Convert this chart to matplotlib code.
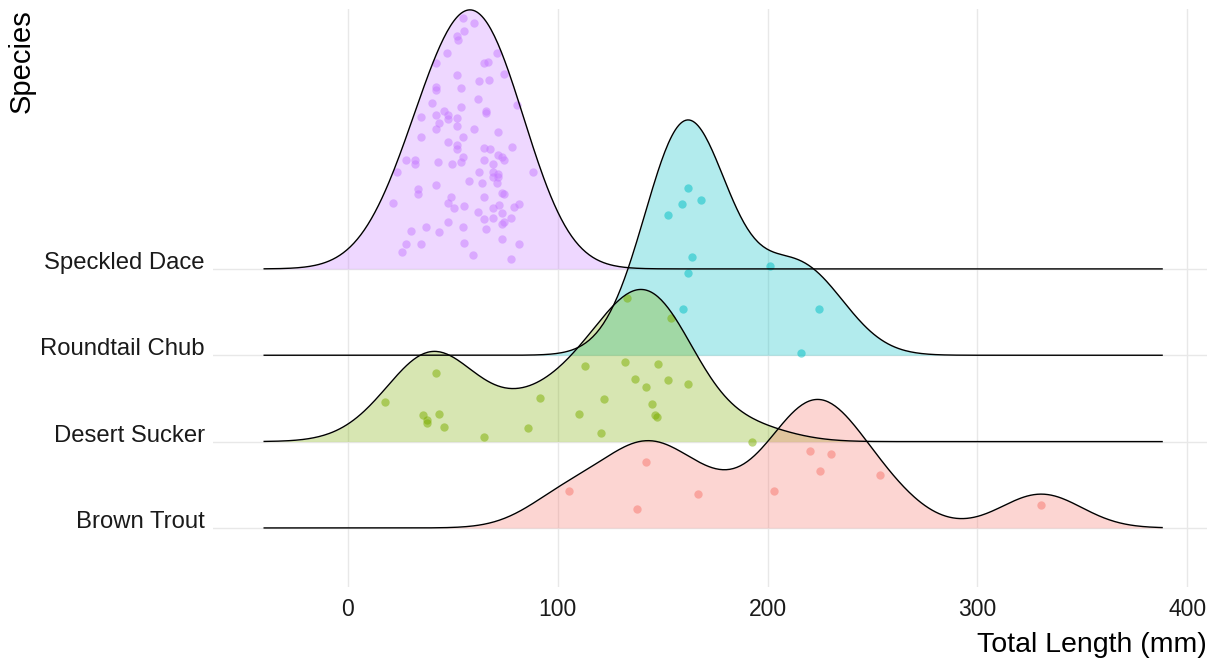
import numpy as np
import matplotlib
matplotlib.use('Agg')
import matplotlib.pyplot as plt

plt.rcParams['font.family'] = ['Liberation Sans', 'DejaVu Sans']

species = ['Brown Trout', 'Desert Sucker', 'Roundtail Chub', 'Speckled Dace']
colors = ['#F8766D', '#7CAE00', '#00BFC4', '#C77CFF']

# total length (mm) of each fish and its vertical jitter (in ridge units)
trout_len = [142.1, 105.4, 137.8, 166.8, 203.0, 220.1, 230.1, 224.9, 253.4, 330.4]
trout_jit = [0.76, 0.43, 0.22, 0.39, 0.43, 0.89, 0.86, 0.66, 0.61, 0.27]

sucker_len = [133.0, 154.0, 42.1, 113.0, 132.1, 147.8, 136.8, 152.5, 142.1, 162.1,
              17.8, 91.6, 122.1, 144.9, 35.9, 43.6, 110.2, 37.8, 37.8, 146.4,
              147.3, 45.9, 85.9, 120.7, 64.9, 192.5]
sucker_jit = [1.66, 1.43, 0.80, 0.88, 0.92, 0.90, 0.73, 0.71, 0.63, 0.67,
              0.46, 0.51, 0.49, 0.43, 0.31, 0.32, 0.32, 0.25, 0.21, 0.31,
              0.29, 0.17, 0.16, 0.10, 0.05, 0.0]

chub_len = [162.1, 168.3, 159.2, 152.5, 164.0, 201.1, 162.1, 159.7, 224.4, 215.8]
chub_jit = [1.94, 1.80, 1.75, 1.62, 1.14, 1.03, 0.95, 0.54, 0.54, 0.03]

dace_len = [54.8, 60.0, 55.3, 52.0, 52.4, 47.2, 70.9, 42.0, 64.7, 66.6,
            74.6, 52.0, 62.4, 67.1, 42.0, 42.0, 53.9, 61.9, 40.2, 80.8,
            53.9, 66.1, 66.1, 45.8, 35.0, 42.0, 47.7, 47.7, 52.0, 52.0,
            43.5, 42.0, 60.0, 71.8, 35.0, 54.8,
            47.7, 52.0, 52.0, 64.7, 67.6, 78.4, 54.8, 53.9, 27.9, 32.1,
            32.1, 43.0, 49.6, 64.7, 71.8, 73.7, 74.6, 69.4, 23.6, 62.4,
            69.0, 71.8, 71.8, 69.0, 88.3, 57.6, 63.8, 70.9, 42.0, 33.5,
            33.5, 73.7, 74.6, 64.7, 49.1, 47.7, 21.7, 50.5, 55.3, 61.9,
            69.4, 72.3, 79.4, 81.7, 73.7, 64.7, 69.4, 77.9, 74.6, 73.7,
            47.7, 54.8, 37.3, 30.2, 43.5, 66.1, 27.9, 35.0, 55.3, 73.7,
            81.7, 26.0, 59.5, 77.9]
dace_jit = [2.90, 2.85, 2.75, 2.70, 2.65, 2.50, 2.50, 2.39, 2.39, 2.40,
            2.26, 2.25, 2.18, 2.19, 2.11, 2.07, 2.09, 1.97, 1.92, 1.90,
            1.87, 1.83, 1.81, 1.83, 1.76, 1.78, 1.78, 1.74, 1.75, 1.66,
            1.69, 1.62, 1.62, 1.59, 1.53, 1.53,
            1.47, 1.44, 1.39, 1.40, 1.39, 1.41, 1.30, 1.24, 1.26, 1.26,
            1.21, 1.24, 1.21, 1.26, 1.32, 1.30, 1.26, 1.21, 1.12, 1.12,
            1.12, 1.10, 1.07, 1.07, 1.12, 1.02, 1.00, 1.00, 0.97, 0.92,
            0.87, 0.88, 0.87, 0.83, 0.83, 0.76, 0.76, 0.70, 0.73, 0.66,
            0.70, 0.74, 0.72, 0.75, 0.65, 0.58, 0.59, 0.59, 0.54, 0.52,
            0.54, 0.49, 0.48, 0.44, 0.43, 0.46, 0.29, 0.29, 0.30, 0.35,
            0.29, 0.19, 0.16, 0.12]

lengths = [trout_len, sucker_len, chub_len, dace_len]
jitters = [trout_jit, sucker_jit, chub_jit, dace_jit]


def nrd0(x):
    x = np.asarray(x, float)
    sd = x.std(ddof=1)
    iqr = (np.percentile(x, 75) - np.percentile(x, 25)) / 1.34
    lo = min(sd, iqr) if iqr > 0 else sd
    return 0.9 * lo * len(x) ** -0.2


def kde(x, grid, bw):
    x = np.asarray(x, float)
    z = (grid[:, None] - x[None, :]) / bw
    return np.exp(-0.5 * z ** 2).sum(axis=1) / (len(x) * bw * np.sqrt(2 * np.pi))


# joint bandwidth, like ggridges
bw = np.mean([nrd0(x) for x in lengths])
all_x = np.concatenate([np.asarray(x) for x in lengths])
grid = np.linspace(all_x.min() - 3 * bw, all_x.max() + 3 * bw, 512)
dens = [kde(x, grid, bw) for x in lengths]
scale = 3.0
peak = max(d.max() for d in dens)

fig = plt.figure(figsize=(12.13, 6.61), dpi=100)
ax = fig.add_axes([213 / 1213, 74 / 661, 994 / 1213, 578 / 661])

# top ridge first so lower ridges overlap it
for i in range(3, -1, -1):
    y0 = i + 1
    h = dens[i] / peak * scale
    ax.fill_between(grid, y0, y0 + h, color=colors[i], alpha=0.3, lw=0)
    ax.scatter(lengths[i], y0 + np.asarray(jitters[i]), s=36, color=colors[i],
               alpha=0.5, lw=0)
    ax.plot(grid, y0 + h, color='black', lw=1.0)

pad = 0.05 * (grid[-1] - grid[0])
ax.set_xlim(grid[0] - pad - 3, grid[-1] + pad)
ax.set_ylim(0.316, 7.01)

ax.set_xticks([0, 100, 200, 300, 400])
ax.set_yticks([1, 2, 3, 4])
ax.set_yticklabels(species)
for lab in ax.get_yticklabels():
    lab.set_verticalalignment('baseline')

ax.tick_params(length=0, colors='#1a1a1a')
ax.tick_params(axis='x', pad=8, labelsize=16.5)
ax.tick_params(axis='y', pad=6, labelsize=17.2)
ax.grid(True, color='#e8e8e8', lw=1.0)
ax.set_axisbelow(True)
for s in ax.spines.values():
    s.set_visible(False)

fig.text(1207 / 1213, 1 - 652 / 661, 'Total Length (mm)', ha='right',
         va='baseline', fontsize=20.5)
fig.text(22 / 1213, 1 - 9 / 661, 'Species', rotation=90, ha='center',
         va='top', fontsize=21)

fig.savefig('out.png', dpi=100)
